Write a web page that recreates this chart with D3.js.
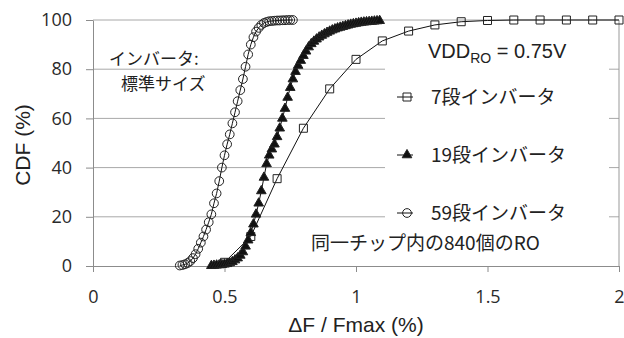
<!DOCTYPE html>
<html>
<head>
<meta charset="utf-8">
<script src="https://cdn.jsdelivr.net/npm/d3@7"></script>
<style>
  body { margin: 0; background: #fff; }
  svg { display: block; }
</style>
</head>
<body>
<div id="chart"></div>
<script>
// 7段インバータ
const x7 = [0.5, 0.6, 0.7, 0.8, 0.9, 1.0, 1.1, 1.2, 1.3, 1.4, 1.5, 1.6, 1.7, 1.8, 1.9, 2.0];
const cdf7 = [1.5, 12, 35.5, 56, 72, 84, 91.5, 95.5, 98, 99.3, 99.8, 100, 100, 100, 100, 100];

// 19段インバータ
const x19 = [0.45, 0.46, 0.47, 0.48, 0.49, 0.50, 0.51, 0.52, 0.53, 0.54,
  0.55, 0.56, 0.57, 0.58, 0.59, 0.60, 0.61, 0.62, 0.63, 0.64,
  0.65, 0.66, 0.67, 0.68, 0.69, 0.70, 0.71, 0.72, 0.73, 0.74,
  0.75, 0.76, 0.77, 0.78, 0.79, 0.80, 0.81, 0.82, 0.83, 0.84,
  0.85, 0.86, 0.87, 0.88, 0.89, 0.90, 0.91, 0.92, 0.93, 0.94,
  0.95, 0.96, 0.97, 0.98, 0.99, 1.00, 1.01, 1.02, 1.03, 1.04,
  1.05, 1.06, 1.07, 1.08, 1.09];
const cdf19 = [0.1, 0.2, 0.3, 0.4, 0.5, 0.7, 0.9, 1.2, 1.7, 2.4,
  3.2, 4.3, 5.7, 8, 10.5, 13.5, 17, 21, 25.5, 30.5,
  36, 41.5, 45, 47.5, 49.5, 52.5, 56, 60, 64, 68.5,
  72.5, 76, 79, 81.5, 83.5, 85.5, 87.3, 89, 90.3, 91.3,
  92.2, 93, 93.7, 94.3, 94.9, 95.4, 95.9, 96.3, 96.7, 97,
  97.3, 97.6, 97.9, 98.2, 98.4, 98.6, 98.8, 99, 99.1, 99.2,
  99.3, 99.4, 99.5, 99.6, 99.7];

// 59段インバータ
const x59 = [0.33, 0.34, 0.35, 0.36, 0.37, 0.38, 0.39, 0.40, 0.41, 0.42,
  0.43, 0.44, 0.45, 0.46, 0.47, 0.48, 0.49, 0.50, 0.51, 0.52,
  0.53, 0.54, 0.55, 0.56, 0.57, 0.58, 0.59, 0.60, 0.61, 0.62,
  0.63, 0.64, 0.65, 0.66, 0.67, 0.68, 0.69, 0.70, 0.71, 0.72,
  0.73, 0.74, 0.75, 0.76];
const cdf59 = [0.2, 0.4, 0.7, 1.2, 2.0, 3.2, 4.8, 7.0, 9.5, 12,
  14.8, 17.8, 21, 25.5, 29.5, 34.5, 40, 45, 49.5, 53.5,
  58, 62.5, 67, 71.5, 76, 81, 86, 90, 93, 95.3,
  96.8, 98, 98.8, 99.2, 99.5, 99.6, 99.7, 99.8, 99.8, 99.9,
  99.9, 100, 100, 100];

const xTicks = [0, 0.5, 1, 1.5, 2];
const yTicks = [0, 20, 40, 60, 80, 100];
const seriesNames = ['7段インバータ', '19段インバータ', '59段インバータ'];

const width = 624, height = 338;
const margin = { top: 20, right: 5, bottom: 72, left: 93 };
const jp = '"Noto Sans CJK JP", sans-serif';
const latin = '"Liberation Sans", Arial, sans-serif';
const tickFont = '"Open Sans", sans-serif';

const svg = d3.select('#chart')
  .append('svg')
  .attr('width', width)
  .attr('height', height);

const x = d3.scaleLinear().domain([0, 2]).range([margin.left, width - margin.right]);
const y = d3.scaleLinear().domain([0, 100]).range([height - margin.bottom, margin.top]);

// grid
svg.append('g')
  .selectAll('line')
  .data(yTicks.filter(d => d > 0))
  .enter()
  .append('line')
  .attr('x1', x(0))
  .attr('x2', x(2))
  .attr('y1', d => y(d))
  .attr('y2', d => y(d))
  .attr('stroke', '#a8a8a8')
  .attr('stroke-width', 1);

// right border
svg.append('line')
  .attr('x1', x(2)).attr('x2', x(2))
  .attr('y1', y(100)).attr('y2', y(0))
  .attr('stroke', '#999');

// legend background
svg.append('rect')
  .attr('x', 385)
  .attr('y', 40)
  .attr('width', x(2) - 10 - 385)
  .attr('height', 185)
  .attr('fill', '#fff');

// axes
const yAxis = svg.append('g')
  .attr('transform', `translate(${x(0)},0)`)
  .call(d3.axisLeft(y).tickValues(yTicks).tickSize(7).tickSizeOuter(0).tickPadding(14));
const xAxis = svg.append('g')
  .attr('transform', `translate(0,${y(0)})`)
  .call(d3.axisBottom(x).tickValues(xTicks).tickSize(6).tickSizeOuter(0).tickPadding(18)
    .tickFormat(d => String(d)));

[yAxis, xAxis].forEach(g => {
  g.selectAll('path, line').attr('stroke', '#8c8c8c');
  g.selectAll('text')
    .attr('fill', '#2a2a2a')
    .style('font-family', tickFont)
    .style('font-size', '18px');
});

// series
const line = d3.line().x(d => x(d[0])).y(d => y(d[1]));
const zip = (xs, ys) => xs.map((v, i) => [v, ys[i]]);
const series = [
  { data: zip(x7, cdf7), symbol: d3.symbolSquare, size: 64, fill: 'none' },
  { data: zip(x19, cdf19), symbol: d3.symbolTriangle, size: 40, fill: '#111' },
  { data: zip(x59, cdf59), symbol: d3.symbolCircle, size: 60, fill: 'none' }
];

series.forEach(s => {
  svg.append('path')
    .datum(s.data)
    .attr('d', line)
    .attr('fill', 'none')
    .attr('stroke', '#111')
    .attr('stroke-width', 1);

  svg.append('g')
    .selectAll('path')
    .data(s.data)
    .enter()
    .append('path')
    .attr('transform', d => `translate(${x(d[0])},${y(d[1])})`)
    .attr('d', d3.symbol().type(s.symbol).size(s.size))
    .attr('fill', s.fill)
    .attr('stroke', '#222')
    .attr('stroke-width', 1);
});

// legend
const legendY = [97, 155, 213];
series.forEach((s, i) => {
  const g = svg.append('g').attr('transform', `translate(397,${legendY[i]})`);
  g.append('line')
    .attr('x1', 0).attr('x2', 16)
    .attr('y1', 0).attr('y2', 0)
    .attr('stroke', '#111');
  g.append('path')
    .attr('transform', 'translate(10,0)')
    .attr('d', d3.symbol().type(s.symbol).size(s.size))
    .attr('fill', s.fill)
    .attr('stroke', '#222')
    .attr('stroke-width', 1);
  g.append('text')
    .attr('x', 34)
    .attr('y', 7)
    .style('font-family', jp)
    .style('font-size', '19px')
    .attr('fill', '#222')
    .text(seriesNames[i]);
});

// VDD label
const vdd = svg.append('text')
  .attr('x', 428)
  .attr('y', 58)
  .style('font-family', latin)
  .style('font-size', '20px')
  .attr('fill', '#222');
vdd.append('tspan').text('VDD');
vdd.append('tspan').attr('dy', 5).style('font-size', '14px').text('RO');
vdd.append('tspan').attr('dy', -5).text(' = 0.75V');

// notes
svg.append('text')
  .attr('x', 311).attr('y', 250)
  .style('font-family', jp).style('font-size', '19px')
  .attr('fill', '#222')
  .text('同一チップ内の840個のRO');

svg.append('text')
  .attr('x', 109).attr('y', 65)
  .style('font-family', jp).style('font-size', '17px')
  .attr('fill', '#222')
  .text('インバータ:');
svg.append('text')
  .attr('x', 121).attr('y', 90)
  .style('font-family', jp).style('font-size', '17px')
  .attr('fill', '#222')
  .text('標準サイズ');

// axis titles
svg.append('text')
  .attr('x', 356).attr('y', 332)
  .attr('text-anchor', 'middle')
  .style('font-family', latin).style('font-size', '21px')
  .attr('fill', '#222')
  .text('ΔF / Fmax (%)');

svg.append('text')
  .attr('transform', 'translate(30,145) rotate(-90)')
  .attr('text-anchor', 'middle')
  .style('font-family', latin).style('font-size', '21px')
  .attr('fill', '#222')
  .text('CDF (%)');
</script>
</body>
</html>
